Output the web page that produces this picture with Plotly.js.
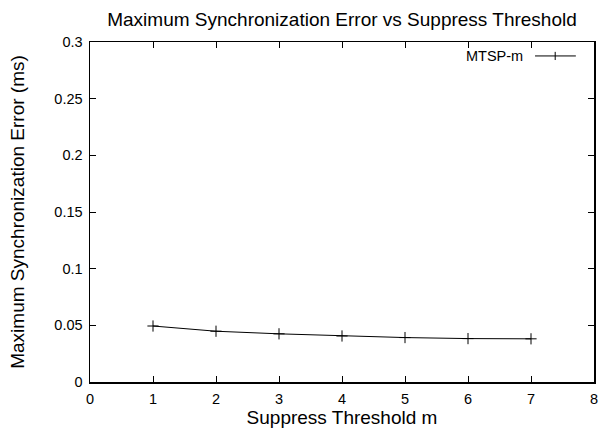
<!DOCTYPE html>
<html>
<head>
<meta charset="utf-8">
<script src="https://cdn.plot.ly/plotly-3.0.1.min.js"></script>
<style>html,body{margin:0;padding:0;background:#fff;}#chart{width:602px;height:433px;}</style>
</head>
<body>
<div id="chart"></div>
<script>
const thresholds = [1, 2, 3, 4, 5, 6, 7];
const maxSyncError = [0.0494, 0.0448, 0.0425, 0.0406, 0.0392, 0.0383, 0.0381];
const seriesName = "MTSP-m";

const font = "Liberation Sans, Arial, sans-serif";
const titleSize = 19;
const tickSize = 14.5;

const trace = {
  x: thresholds,
  y: maxSyncError,
  type: "scatter",
  mode: "lines+markers",
  name: seriesName,
  line: {color: "#000", width: 1},
  marker: {symbol: "cross-thin-open", size: 8, line: {color: "#000", width: 1}, color: "#000"},
  showlegend: false
};

const axisCommon = {
  showgrid: false,
  zeroline: false,
  showline: true,
  mirror: "ticks",
  linecolor: "#000",
  linewidth: 1.5,
  ticks: "inside",
  ticklen: 6,
  tickwidth: 1,
  tickcolor: "#000",
  tickfont: {family: font, size: tickSize, color: "#000"}
};

// legend sample (gnuplot style: text then line sample)
const lx0 = 0.883, lx1 = 0.964, lxm = 0.923, ly = 0.959;

const layout = {
  width: 602,
  height: 433,
  margin: {l: 90, r: 8, t: 42, b: 51},
  paper_bgcolor: "#fff",
  plot_bgcolor: "#fff",
  title: {text: "Maximum Synchronization Error vs Suppress Threshold", font: {family: font, size: titleSize, color: "#000"}, xref: "paper", x: 0.5, xanchor: "center", y: 0.955, yanchor: "middle"},
  xaxis: Object.assign({}, axisCommon, {
    range: [0, 8], dtick: 1, tick0: 0, ticklabelstandoff: 3,
    title: {text: "Suppress Threshold m", font: {family: font, size: titleSize, color: "#000"}, standoff: 4}
  }),
  yaxis: Object.assign({}, axisCommon, {
    range: [0, 0.3], dtick: 0.05, tick0: 0, ticklabelstandoff: 3,
    title: {text: "Maximum Synchronization Error (ms)", font: {family: font, size: titleSize, color: "#000"}, standoff: 24}
  }),
  annotations: [{
    xref: "paper", yref: "paper", x: 0.863, y: ly, xanchor: "right", yanchor: "middle",
    text: seriesName, showarrow: false, font: {family: font, size: tickSize, color: "#000"}
  }],
  shapes: [
    {type: "line", xref: "paper", yref: "paper", x0: lx0, x1: lx1, y0: ly, y1: ly, line: {color: "#000", width: 1}},
    {type: "line", xref: "paper", yref: "paper", x0: lxm, x1: lxm, y0: ly - 0.012, y1: ly + 0.012, line: {color: "#000", width: 1}}
  ]
};

Plotly.newPlot("chart", [trace], layout, {displayModeBar: false, staticPlot: true});
</script>
</body>
</html>
